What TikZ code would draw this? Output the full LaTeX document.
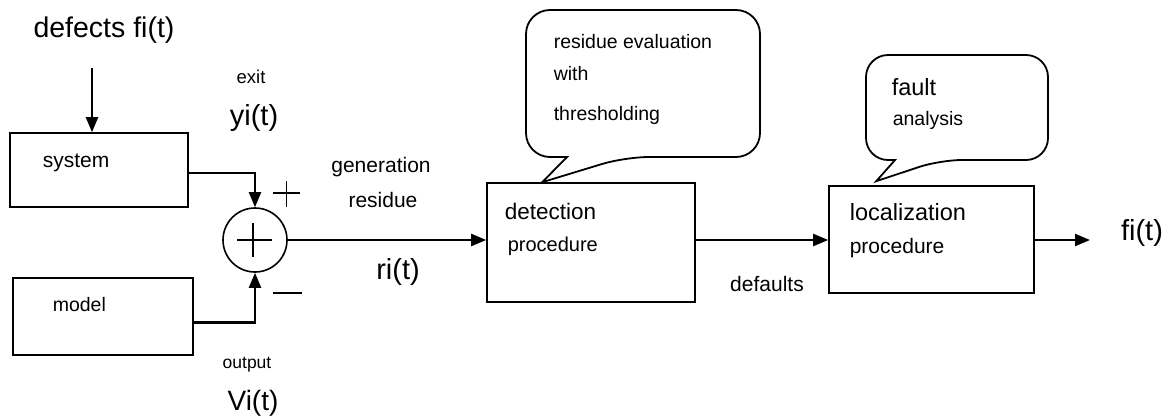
\documentclass[tikz,border=0pt]{standalone}
\usepackage{fontspec}
\setmainfont{Liberation Sans}
\usetikzlibrary{arrows.meta,calc,positioning}

\begin{document}
\begin{tikzpicture}[x=1pt,y=-1pt,>={Triangle[length=15pt,width=12pt]},line width=1.6pt,
  block/.style={draw,rectangle,inner sep=0pt},
  txt/.style={anchor=west,inner sep=0pt},
  lbl/.style={inner sep=0pt},
  big/.style={font=\fontsize{29}{31}\selectfont},
  mid/.style={font=\fontsize{23.5}{26}\selectfont},
  small/.style={font=\fontsize{21}{24}\selectfont},
  tiny/.style={font=\fontsize{19.5}{22}\selectfont},
  flow/.style={->,line width=2.2pt},
  bubble/.style={draw,line width=1.8pt}]

  \useasboundingbox (0,0) rectangle (1172,418);

  % blocks
  \node[block,minimum width=178pt,minimum height=74pt] (sys) at (99,170) {};
  \node[block,minimum width=180pt,minimum height=77pt] (mod) at (103,316.5) {};
  \node[draw,circle,minimum size=64pt,inner sep=0pt] (sum) at (255,240) {};
  \node[block,minimum width=208pt,minimum height=119pt] (det) at (591,242.5) {};
  \node[block,minimum width=205pt,minimum height=107pt] (loc) at (931.5,239.5) {};

  % texts
  \node[lbl,font=\fontsize{28.5}{31}\selectfont] (defects) at (104,30) {defects fi(t)};
  \node[txt,small] (systxt) at (42,163) {system};
  \node[txt,tiny] (modtxt) at (52,305) {model};
  \node[lbl,font=\fontsize{18.5}{21}\selectfont] (exit) at (251,77) {exit};
  \node[lbl,big] (yi) at (254,118) {yi(t)};
  \node[lbl,font=\fontsize{17.5}{20}\selectfont] (outp) at (247,365) {output};
  \node[lbl,font=\fontsize{28}{31}\selectfont] (vi) at (253,403) {Vi(t)};
  \node[lbl,small] (gen) at (381,167) {generation};
  \node[lbl,small] (res) at (383,200) {residue};
  \node[lbl,big] (ri) at (398,272) {ri(t)};
  \node[txt,font=\fontsize{22.5}{25}\selectfont] (dettxt) at (504,211) {detection};
  \node[txt,font=\fontsize{20}{23}\selectfont] (detproc) at (507,246) {procedure};
  \node[lbl,small] (defaults) at (767,284) {defaults};
  \node[txt,mid] (loctxt) at (849,212) {localization};
  \node[txt,small] (locproc) at (849,248) {procedure};
  \node[lbl,big] (fi) at (1142,233) {fi(t)};

  % sign marks
  \draw[line width=1.6pt] ($(sum.center)+(-18,0)$) -- ($(sum.center)+(17,0)$)
    ($(sum.center)+(-2,-17)$) -- ($(sum.center)+(-2,17)$);
  \draw[line width=1.3pt] (273,193) -- (300,193) (286.5,181) -- (286.5,207);
  \draw[line width=1.3pt] (273,293) -- (302,293);

  % connectors
  \coordinate (din) at (92,68);
  \coordinate (out) at (1090,240);
  \draw[flow] (din) -- (din |- sys.north);
  \draw[flow] ([yshift=-3pt]sys.east) -| (sum.north);
  \draw[flow] ([yshift=-6pt]mod.east) -| (sum.south);
  \draw[flow] (sum.east) -- (sum -| det.west);
  \draw[flow] (det.east |- sum) -- (sum -| loc.west);
  \draw[flow] (loc.east |- sum) -- (out);

  % callouts
  \coordinate (tipA) at ($(det.north west)+(56,0)$);
  \draw[bubble] (tipA) -- (567,157) [rounded corners=24pt] -- (526,157) -- (526,10)
    -- (760,10) -- (760,157) -- (625,157) [sharp corners] -- cycle;
  \node[txt,tiny] (evtxt) at (553,42) {residue evaluation};
  \node[txt,tiny] (withtxt) at (553,74) {with};
  \node[txt,tiny] (thrtxt) at (553,115) {thresholding};

  \coordinate (tipB) at ($(loc.north west)+(48,-4)$);
  \draw[bubble] (tipB) -- (895,160) [rounded corners=22pt] -- (866,160) -- (866,55)
    -- (1048,55) -- (1048,160) -- (940,160) [sharp corners] -- cycle;
  \node[txt,mid] (faulttxt) at (891,87) {fault};
  \node[txt,tiny] (anatxt) at (892,120) {analysis};
\end{tikzpicture}
\end{document}
